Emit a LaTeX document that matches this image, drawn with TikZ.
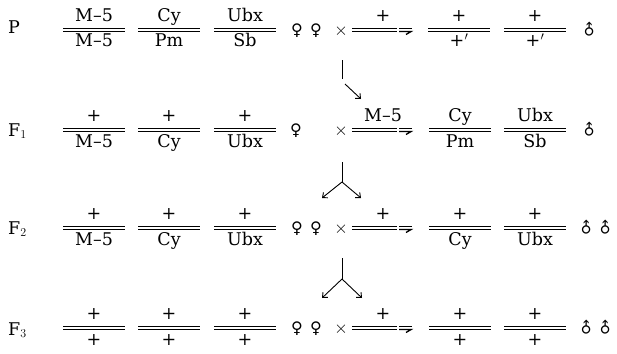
\documentclass[tikz,border=0pt]{standalone}
\usepackage{fontspec}
\newfontfamily\symfont{DejaVu Sans}
\newfontfamily\labfont{DejaVu Serif}
\usetikzlibrary{arrows.meta}
\newcommand\chpair[5]{%
  \draw[chromline] (#2-31,#3) coordinate (#1l) -- (#2+31,#3) coordinate (#1r);
  \node[lab] (#1t) at (#2,#3-8.5) {#4};
  \node[lab] (#1b) at (#2,#3+17) {#5};
}
\newcommand\ychrom[4]{%
  \draw[chromline] (#2,#3) coordinate (#1l) -- (#2+45,#3) coordinate (#1m);
  \draw[line width=1.3pt] (#2+47,#3-1.55) -- (#2+60,#3-1.55);
  \draw[line width=1.3pt] (#2+47,#3+1.55) -- (#2+59,#3+1.55) -- (#2+54,#3+4.5);
  \node[lab] (#1t) at (#2+31,#3-8.5) {#4};
}
\newcommand\plusprime{+\kern0.5pt$'$}
\begin{document}
\begin{tikzpicture}[x=1pt,y=-1pt,
  chromline/.style={double distance=1.6pt, line width=1.4pt},
  lab/.style={inner sep=0pt, anchor=base, font=\labfont\fontsize{17.5}{21}\selectfont},
  gen/.style={inner sep=0pt, anchor=base west, font=\labfont\fontsize{17.5}{21}\selectfont},
  fem/.style={inner sep=0pt, font=\symfont\fontsize{16}{18}\selectfont},
  mal/.style={inner sep=0pt, rotate=45, font=\symfont\fontsize{15}{17}\selectfont},
  cross/.style={inner sep=0pt, font=\fontsize{18}{20}\selectfont},
  stem/.style={line width=0.9pt},
  arr/.style={line width=0.9pt, -{Straight Barb[length=4pt,width=7pt]}}
]
\useasboundingbox (0,0) rectangle (617,353);
% ---------- P ----------
\node[gen] (gP) at (8,34) {P};
\chpair{p1}{94}{30}{M–5}{M–5}
\chpair{p2}{169}{30}{Cy}{Pm}
\chpair{p3}{245}{30}{Ubx}{Sb}
\node[fem] (pf1) at (297,31) {♀};
\node[fem] (pf2) at (316,31) {♀};
\node[cross] (px) at (341,31) {$\times$};
\ychrom{pY}{352}{30}{+}
\chpair{p5}{459}{30}{+}{\plusprime}
\chpair{p6}{535}{30}{+}{\plusprime}
\node[mal] (pm1) at (589,30) {♂};
% ---------- F1 ----------
\node[gen] (gF1) at (8,136) {F$_1$};
\chpair{a1}{94}{130}{+}{M–5}
\chpair{a2}{169}{130}{+}{Cy}
\chpair{a3}{245}{130}{+}{Ubx}
\node[fem] (af1) at (296,131) {♀};
\node[cross] (ax) at (341,131) {$\times$};
\ychrom{aY}{352}{130}{M–5}
\chpair{a5}{460}{130}{Cy}{Pm}
\chpair{a6}{535}{130}{Ubx}{Sb}
\node[mal] (am1) at (589,130) {♂};
% ---------- F2 ----------
\node[gen] (gF2) at (8,234) {F$_2$};
\chpair{b1}{94}{228}{+}{M–5}
\chpair{b2}{169}{228}{+}{Cy}
\chpair{b3}{245}{228}{+}{Ubx}
\node[fem] (bf1) at (297,229) {♀};
\node[fem] (bf2) at (316,229) {♀};
\node[cross] (bx) at (341,229) {$\times$};
\ychrom{bY}{352}{228}{+}
\chpair{b5}{460}{228}{+}{Cy}
\chpair{b6}{535}{228}{+}{Ubx}
\node[mal] (bm1) at (586,228) {♂};
\node[mal] (bm2) at (605,228) {♂};
% ---------- F3 ----------
\node[gen] (gF3) at (8,335) {F$_3$};
\chpair{c1}{94}{328}{+}{+}
\chpair{c2}{169}{328}{+}{+}
\chpair{c3}{245}{328}{+}{+}
\node[fem] (cf1) at (297,329) {♀};
\node[fem] (cf2) at (316,329) {♀};
\node[cross] (cx) at (341,329) {$\times$};
\ychrom{cY}{352}{328}{+}
\chpair{c5}{460}{328}{+}{+}
\chpair{c6}{535}{328}{+}{+}
\node[mal] (cm1) at (586,328) {♂};
\node[mal] (cm2) at (605,328) {♂};
% ---------- arrows ----------
\coordinate (s1a) at (342,60);
\coordinate (s1b) at (342,79);
\coordinate (s1c) at (345,84);
\coordinate (t1) at (361,99);
\draw[stem] (s1a) -- (s1b);
\draw[arr] (s1c) -- (t1);
\coordinate (s2a) at (342,162);
\coordinate (s2b) at (342,182);
\coordinate (t2l) at (322,198);
\coordinate (t2r) at (361,198);
\draw[stem] (s2a) -- (s2b);
\draw[arr] (s2b) -- (t2l);
\draw[arr] (s2b) -- (t2r);
\coordinate (s3a) at (342,258);
\coordinate (s3b) at (342,279);
\coordinate (t3l) at (322,298);
\coordinate (t3r) at (362,298);
\draw[stem] (s3a) -- (s3b);
\draw[arr] (s3b) -- (t3l);
\draw[arr] (s3b) -- (t3r);
\end{tikzpicture}
\end{document}
